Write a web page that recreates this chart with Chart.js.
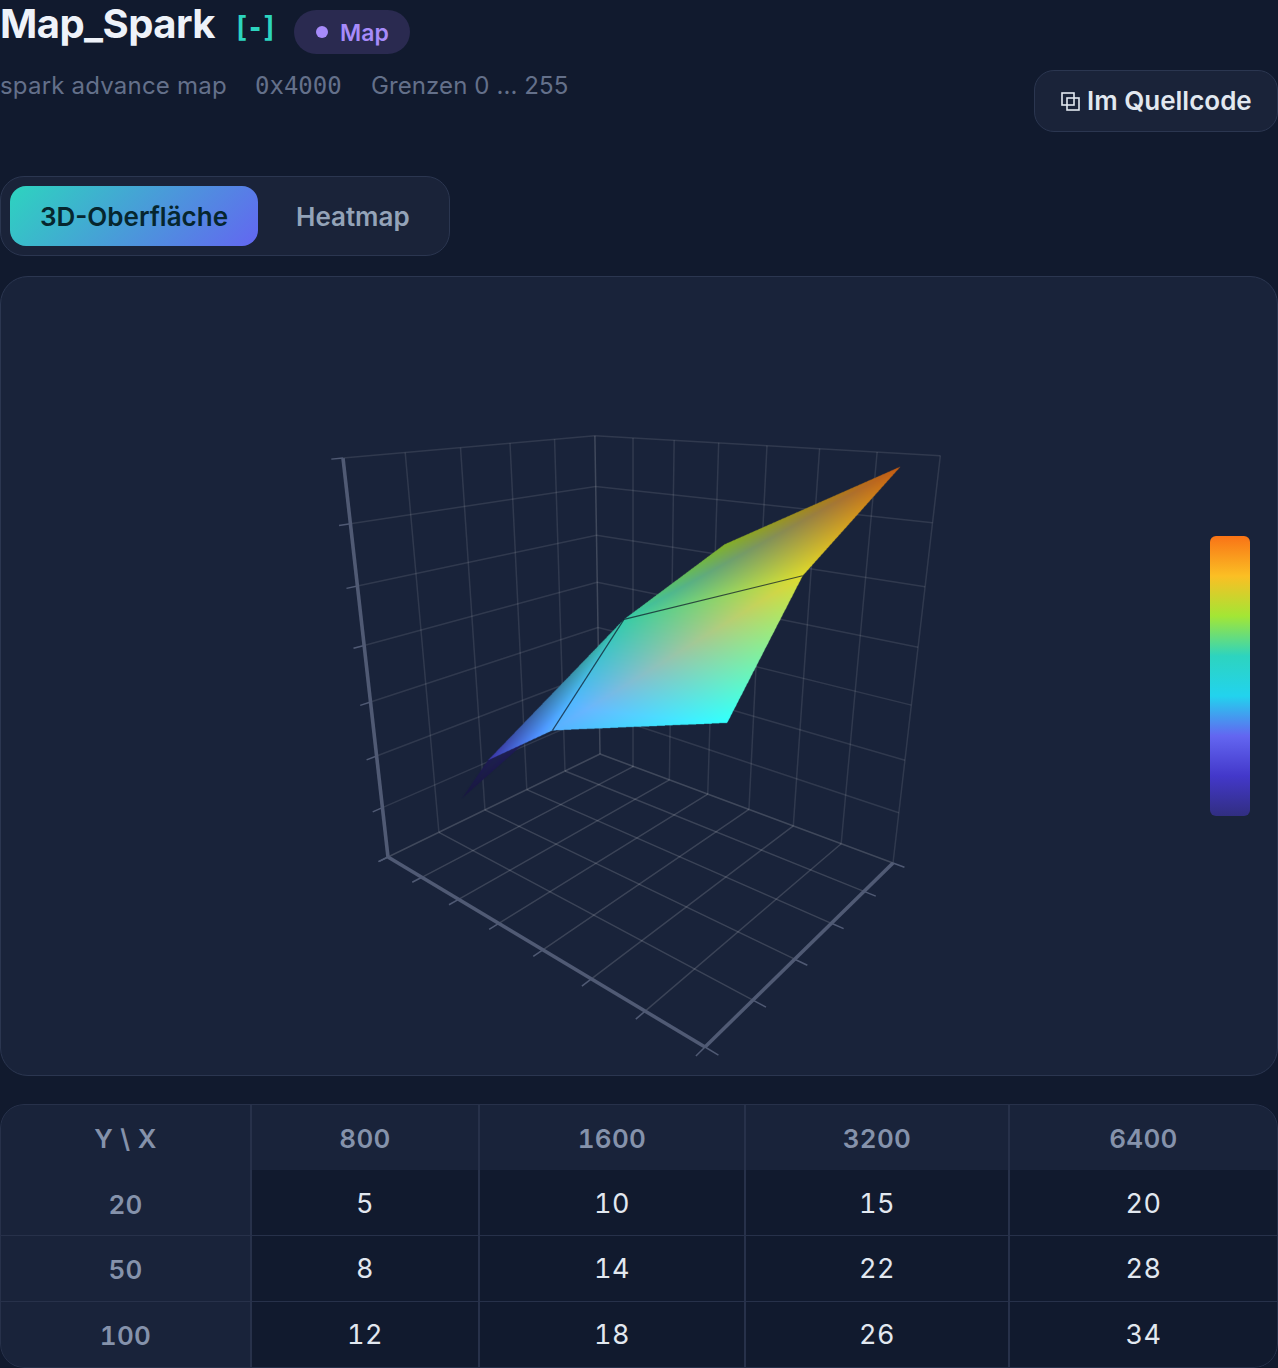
<!DOCTYPE html>
<html lang="de">
<head>
<meta charset="utf-8">
<title>Map_Spark</title>
<script src="https://cdn.jsdelivr.net/npm/chart.js@4/dist/chart.umd.min.js"></script>
<style>
  html, body { margin: 0; padding: 0; }
  body { width: 1278px; height: 1368px; position: relative; overflow: hidden; background: #111a2e; font-family: Inter, sans-serif; }
  .abs { position: absolute; white-space: nowrap; }
  .title { left: 0; top: 0; font-size: 40px; line-height: 48px; font-weight: 700; color: #eef2f9; letter-spacing: -0.55px; }
  .unit { left: 233px; top: 8px; font: 700 28px/40px "DejaVu Sans Mono", monospace; color: #2dd4bf; letter-spacing: -3px; }
  .pill { left: 294px; top: 10px; width: 116px; height: 44px; border-radius: 22px; background: #2a2a50; }
  .pill i { position: absolute; left: 22px; top: 16px; width: 12px; height: 12px; border-radius: 50%; background: #a78bfa; }
  .pill b { position: absolute; left: 46px; top: 8px; font-size: 23px; line-height: 30px; font-weight: 600; color: #a78bfa; }
  .meta { top: 70px; font-size: 24px; line-height: 32px; color: #64708a; letter-spacing: 0.2px; }
  .code { font-family: "DejaVu Sans Mono", monospace; letter-spacing: 0; }
  .source { left: 1034px; top: 70px; width: 242px; height: 60px; border: 1px solid #2b3650; border-radius: 20px; background: #1a2339; }
  .source span { position: absolute; left: 52px; top: 13px; font-size: 26px; line-height: 34px; font-weight: 600; color: #e2e8f0; }
  .source svg { position: absolute; left: 26px; top: 21px; }
  .tabs { left: 0; top: 176px; width: 448px; height: 78px; border: 1px solid #2b3650; border-radius: 24px; background: #1a2339; }
  .tab-on { left: 10px; top: 186px; width: 248px; height: 60px; border-radius: 16px; background: linear-gradient(135deg, #2dd4bf, #6366f1); color: #06262e; font-size: 26px; line-height: 62px; font-weight: 600; text-align: center; }
  .tab-off { left: 296px; top: 186px; font-size: 26px; line-height: 62px; font-weight: 600; color: #94a3b8; }
  .panel { left: 0; top: 276px; width: 1276px; height: 798px; border: 1px solid #2b3650; border-radius: 28px; background: #19233a; }
  #surface { position: absolute; left: 0; top: 276px; }
  .scale-bar { left: 1210px; top: 536px; width: 40px; height: 280px; border-radius: 6px; }
  .grid { left: 0; top: 1104px; width: 1278px; height: 264px; border-radius: 24px; overflow: hidden; background: #111a2e; }
  .cell { position: absolute; text-align: center; font-size: 27px; line-height: 68px; letter-spacing: 0.6px; font-feature-settings: "tnum"; box-sizing: border-box; }
  .cell.head { background: #19233a; color: #8592ab; font-weight: 600; font-size: 26px; line-height: 70px; letter-spacing: 0.3px; }
  .cell.body { color: #e2e8f0; }
  .rule { position: absolute; background: #27314a; }
  .frame { position: absolute; left: 0; top: 0; right: 0; bottom: 0; border: 1px solid #27314a; border-radius: 24px; }
</style>
</head>
<body>
  <div class="abs title">Map_Spark</div>
  <div class="abs unit">[-]</div>
  <div class="abs pill"><i></i><b>Map</b></div>
  <div class="abs meta" style="left:0">spark advance map</div>
  <div class="abs meta code" style="left:255px">0x4000</div>
  <div class="abs meta" style="left:371px;letter-spacing:0.1px">Grenzen 0 ... 255</div>
  <div class="abs source">
    <svg width="19" height="19" viewBox="0 0 19 19" fill="none" stroke="#e2e8f0" stroke-width="1.6"><rect x="1" y="1" width="12" height="12"/><rect x="6" y="6" width="12" height="12"/></svg>
    <span>Im Quellcode</span>
  </div>
  <div class="abs tabs"></div>
  <div class="abs tab-on">3D-Oberfläche</div>
  <div class="abs tab-off">Heatmap</div>
  <div class="abs panel"></div>
  <canvas id="surface" width="1278" height="800"></canvas>
  <div class="abs scale-bar" id="scaleBar"></div>
  <div class="abs grid" id="grid"></div>

<script>
// spark map values
const rpmValues = [800, 1600, 3200, 6400];
const loadValues = [20, 50, 100];
const row20 = [5, 10, 15, 20];
const row50 = [8, 14, 22, 28];
const row100 = [12, 18, 26, 34];
const sparkValues = [row20, row50, row100];

// axis ticks of the 3d box
const rpmTicks = [0, 1000, 2000, 3000, 4000, 5000, 6000, 7000];
const loadTicks = [0, 20, 40, 60, 80, 100];
const sparkTicks = [0, 5, 10, 15, 20, 25, 30, 35];

// colour ramp, bottom to top
const ramp = ["#312e81", "#4338ca", "#6366f1", "#22d3ee", "#2dd4bf", "#a3e635", "#fbbf24", "#f97316"];

// brightness per mesh vertex, same layout as sparkValues
const vertexLight = [
  [1.00, 0.80, 1.20, 1.22],
  [1.00, 0.80, 0.95, 1.05],
  [0.80, 0.80, 0.78, 0.80],
];
const undersideLight = 0.5;

// perspective camera, box coordinates (0..1) to page pixels
const camX = [116.91, 370.41, -97.48, 388];
const camY = [-107.16, 96.07, -469, 857];
const camW = [-0.28382, 0.26402, -0.153, 1];

const xMax = rpmTicks[rpmTicks.length - 1];
const yMax = loadTicks[loadTicks.length - 1];
const zMax = sparkTicks[sparkTicks.length - 1];
const zLow = Math.min(...row20);
const zHigh = Math.max(...row100);

function depth(x, y, z) {
  return camW[0] * x / xMax + camW[1] * y / yMax + camW[2] * z / zMax + camW[3];
}

function project(x, y, z) {
  const u = x / xMax, v = y / yMax, w = z / zMax;
  const d = depth(x, y, z);
  return {
    x: (camX[0] * u + camX[1] * v + camX[2] * w + camX[3]) / d,
    y: (camY[0] * u + camY[1] * v + camY[2] * w + camY[3]) / d,
  };
}

function hexToRgb(hex) {
  return [1, 3, 5].map((i) => parseInt(hex.substr(i, 2), 16));
}

function rampColor(value) {
  const t = (value - zLow) / (zHigh - zLow) * (ramp.length - 1);
  const i = Math.min(Math.floor(t), ramp.length - 2);
  const a = hexToRgb(ramp[i]), b = hexToRgb(ramp[i + 1]);
  return a.map((c, k) => c + (b[k] - c) * (t - i));
}

const datasets = [];

function addLine(points, color, width) {
  datasets.push({
    data: points.map((p) => project(p[0], p[1], p[2])),
    showLine: true,
    borderColor: color,
    borderWidth: width,
    pointRadius: 0,
    borderCapStyle: "butt",
    order: -datasets.length,
  });
}

const wallColor = "rgba(255,255,255,0.10)";
const floorColor = "rgba(255,255,255,0.15)";
const zeroColor = "rgba(255,255,255,0.17)";
const axisColor = "#505a74";
const xOut = xMax * 1.03;   // tick overhang past the front edges
const yOut = -yMax * 0.035;

// back walls, the z=0 lines come with the floor
sparkTicks.slice(1).forEach((z) => {
  addLine([[0, yMax, z], [0, 0, z]], wallColor, 1.5);
  addLine([[0, yMax, z], [xMax, yMax, z]], wallColor, 1.5);
});
loadTicks.slice(1).forEach((y) => addLine([[0, y, 0], [0, y, zMax]], y === yMax ? zeroColor : wallColor, 1.5));
rpmTicks.slice(1).forEach((x) => addLine([[x, yMax, 0], [x, yMax, zMax]], wallColor, 1.5));

// floor
rpmTicks.forEach((x) => addLine([[x, 0, 0], [x, yMax, 0]], x ? floorColor : zeroColor, 1.4));
loadTicks.forEach((y) => addLine([[0, y, 0], [xMax, y, 0]], y === yMax ? zeroColor : floorColor, 1.4));

// surface triangles, painted far to near
const triangles = [];
for (let r = 0; r < loadValues.length - 1; r++) {
  for (let c = 0; c < rpmValues.length - 1; c++) {
    [[[r, c], [r, c + 1], [r + 1, c + 1]], [[r, c], [r + 1, c + 1], [r + 1, c]]].forEach((corners) => {
      const d = corners.reduce((sum, [i, j]) => sum + depth(rpmValues[j], loadValues[i], sparkValues[i][j]), 0);
      triangles.push({ corners, d });
    });
  }
}
triangles.sort((a, b) => b.d - a.d);
const firstTriangle = datasets.length;
triangles.forEach((tri) => {
  const pts = tri.corners.map(([i, j]) => project(rpmValues[j], loadValues[i], sparkValues[i][j]));
  // winding on screen tells which side of the sheet faces the viewer
  const winding = (pts[1].x - pts[0].x) * (pts[2].y - pts[0].y) - (pts[2].x - pts[0].x) * (pts[1].y - pts[0].y);
  const side = winding > 0 ? undersideLight : 1;
  datasets.push({
    data: pts,
    vertexColors: tri.corners.map(([i, j]) => rampColor(sparkValues[i][j]).map((c) => c * vertexLight[i][j] * side)),
    showLine: false,
    pointRadius: 0,
    order: -datasets.length,
  });
});
const lastTriangle = datasets.length - 1;

// mesh lines that stay visible on top of the surface
const meshColor = "rgba(12,24,40,0.72)";
addLine([[3200, 20, row20[2]], [3200, 50, row50[2]]], meshColor, 1.2);
addLine([[3200, 50, row50[2]], [6400, 50, row50[3]]], meshColor, 1.2);

// axis lines and their ticks
addLine([[0, 0, 0], [0, 0, zMax]], axisColor, 3.6);
addLine([[0, 0, 0], [xMax, 0, 0]], axisColor, 3.6);
addLine([[xMax, 0, 0], [xMax, yMax, 0]], axisColor, 3.6);
sparkTicks.forEach((z) => addLine([[0, 0, z], [0, yOut, z]], axisColor, 1.5));
rpmTicks.forEach((x) => addLine([[x, 0, 0], [x, yOut, 0]], axisColor, 1.5));
loadTicks.forEach((y) => addLine([[xMax, y, 0], [xOut, y, 0]], axisColor, 1.5));

// gouraud fill: rasterise all triangles oversampled, then scale down once
const surfaceShading = {
  id: "surfaceShading",
  afterDatasetDraw(chart, args) {
    if (args.index !== lastTriangle) return;
    const ss = 3;
    const tris = [];
    for (let i = firstTriangle; i <= lastTriangle; i++) {
      tris.push({ pts: chart.getDatasetMeta(i).data, colors: chart.data.datasets[i].vertexColors });
    }
    const all = tris.flatMap((t) => t.pts);
    const left = Math.floor(Math.min(...all.map((p) => p.x))) - 1;
    const top = Math.floor(Math.min(...all.map((p) => p.y))) - 1;
    const right = Math.ceil(Math.max(...all.map((p) => p.x))) + 1;
    const bottom = Math.ceil(Math.max(...all.map((p) => p.y))) + 1;
    const w = (right - left) * ss, h = (bottom - top) * ss;
    const off = document.createElement("canvas");
    off.width = w;
    off.height = h;
    const octx = off.getContext("2d");
    const img = octx.createImageData(w, h);
    tris.forEach(({ pts, colors }) => {
      const [a, b, c] = pts.map((p) => ({ x: (p.x - left) * ss, y: (p.y - top) * ss }));
      const area = (b.x - a.x) * (c.y - a.y) - (c.x - a.x) * (b.y - a.y);
      if (!area) return;
      const x0 = Math.max(0, Math.floor(Math.min(a.x, b.x, c.x)));
      const x1 = Math.min(w - 1, Math.ceil(Math.max(a.x, b.x, c.x)));
      const y0 = Math.max(0, Math.floor(Math.min(a.y, b.y, c.y)));
      const y1 = Math.min(h - 1, Math.ceil(Math.max(a.y, b.y, c.y)));
      for (let py = y0; py <= y1; py++) {
        for (let px = x0; px <= x1; px++) {
          const qx = px + 0.5, qy = py + 0.5;
          const wb = ((qx - a.x) * (c.y - a.y) - (c.x - a.x) * (qy - a.y)) / area;
          const wc = ((b.x - a.x) * (qy - a.y) - (qx - a.x) * (b.y - a.y)) / area;
          const wa = 1 - wb - wc;
          if (wa < 0 || wb < 0 || wc < 0) continue;
          const o = (py * w + px) * 4;
          for (let m = 0; m < 3; m++) {
            img.data[o + m] = Math.min(255, colors[0][m] * wa + colors[1][m] * wb + colors[2][m] * wc);
          }
          img.data[o + 3] = 255;
        }
      }
    });
    octx.putImageData(img, 0, 0);
    const ctx = chart.ctx;
    ctx.save();
    ctx.imageSmoothingEnabled = true;
    ctx.imageSmoothingQuality = "high";
    ctx.drawImage(off, left, top, right - left, bottom - top);
    ctx.restore();
  },
};

new Chart(document.getElementById("surface"), {
  type: "scatter",
  data: { datasets },
  options: {
    responsive: false,
    animation: false,
    events: [],
    layout: { padding: 0 },
    plugins: { legend: { display: false }, tooltip: { enabled: false } },
    scales: {
      x: { type: "linear", display: false, min: 0, max: 1278 },
      y: { type: "linear", display: false, min: 276, max: 1076, reverse: true },
    },
  },
  plugins: [surfaceShading],
});

// colour bar
const stops = ramp.slice().reverse().map((c, i) => `${c} ${(i / (ramp.length - 1) * 100).toFixed(1)}%`);
document.getElementById("scaleBar").style.background = `linear-gradient(to bottom, ${stops.join(", ")})`;

// value table
const grid = document.getElementById("grid");
const colEdges = [0, 251, 479, 745, 1009, 1278];
const rowEdges = [0, 66, 131, 197, 264];

function addCell(text, col, row, kind) {
  const el = document.createElement("div");
  el.className = "cell " + kind;
  el.textContent = text;
  el.style.left = colEdges[col] + "px";
  el.style.top = rowEdges[row] + "px";
  el.style.width = colEdges[col + 1] - colEdges[col] + "px";
  el.style.height = rowEdges[row + 1] - rowEdges[row] + "px";
  grid.appendChild(el);
}

function addRule(left, top, width, height) {
  const el = document.createElement("div");
  el.className = "rule";
  el.style.cssText = `left:${left}px;top:${top}px;width:${width}px;height:${height}px`;
  grid.appendChild(el);
}

addCell("Y \\ X", 0, 0, "head");
rpmValues.forEach((x, c) => addCell(x, c + 1, 0, "head"));
loadValues.forEach((y, r) => {
  addCell(y, 0, r + 1, "head");
  sparkValues[r].forEach((v, c) => addCell(v, c + 1, r + 1, "body"));
});
colEdges.slice(1, -1).forEach((x) => addRule(x - 1, 0, 2, 264));
rowEdges.slice(2, -1).forEach((y) => addRule(0, y, 1278, 1));
const frame = document.createElement("div");
frame.className = "frame";
grid.appendChild(frame);
</script>
</body>
</html>
